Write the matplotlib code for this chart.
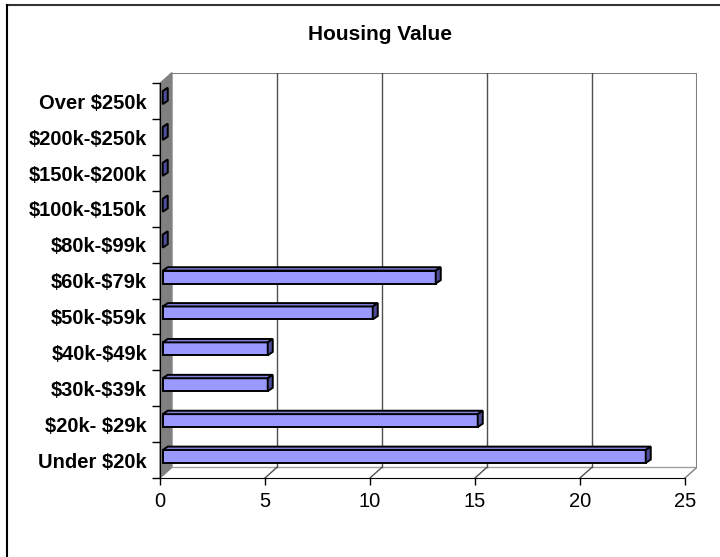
import numpy as np
import matplotlib.pyplot as plt
from matplotlib.lines import Line2D

categories = ['Under $20k', '$20k- $29k', '$30k-$39k', '$40k-$49k', '$50k-$59k',
              '$60k-$79k', '$80k-$99k', '$100k-$150k', '$150k-$200k',
              '$200k-$250k', 'Over $250k']
counts = [23, 15, 5, 5, 10, 13, 0, 0, 0, 0, 0]
x_ticks = [0, 5, 10, 15, 20, 25]
title = 'Housing Value'

plt.rcParams['font.family'] = ['Liberation Sans', 'DejaVu Sans']

# fake 3d depth (in data units)
dxw, dyw = 0.571, 0.30      # walls
bx = 0.13                    # bar front offset
bh = 0.36                    # bar front height
bdx, bdy = 0.24, 0.095       # bar depth
xmax = x_ticks[-1]
ytop = len(categories) - 0.5 + dyw

fig = plt.figure(figsize=(7.2, 5.57), dpi=100)
ax = fig.add_axes([160 / 720, 79 / 557, (xmax + dxw) * 21 / 720, (ytop + 0.5) * 35.88 / 557])
ax.set_xlim(0, xmax + dxw)
ax.set_ylim(-0.5, ytop)

# side wall
ax.fill([0, 0, dxw, dxw], [-0.5, len(categories) - 0.5, ytop, -0.5 + dyw],
        color='#808080', zorder=1, clip_on=False)
# back wall / floor edges
ax.plot([dxw, xmax + dxw, xmax + dxw], [ytop, ytop, -0.5 + dyw], color='#808080', lw=1.5, zorder=1)
ax.plot([dxw, xmax + dxw], [-0.5 + dyw] * 2, color='#a0a0a0', lw=1, zorder=1)
ax.plot([xmax, xmax + dxw], [-0.5, -0.5 + dyw], color='#808080', lw=1, zorder=1)
for v in x_ticks[1:-1]:
    ax.plot([v + dxw] * 2, [-0.5 + dyw, ytop], color='#505050', lw=1, zorder=1)
    ax.plot([v, v + dxw], [-0.5, -0.5 + dyw], color='#505050', lw=1, zorder=1)

# bars
y = np.arange(len(categories))
yc = y + 0.1
ax.barh(yc, counts, left=bx, height=bh, color='#9999ff', edgecolor='black', lw=1.4, zorder=3)
for yy, v in zip(yc, counts):
    t = yy + bh / 2
    b = yy - bh / 2
    ax.fill([bx, bx + v, bx + v + bdx, bx + bdx], [t, t, t + bdy, t + bdy],
            facecolor='#8080dd', edgecolor='black', lw=1.4, zorder=3)
    ax.fill([bx + v, bx + v + bdx, bx + v + bdx, bx + v], [b, b + bdy, t + bdy, t],
            facecolor='#4d4d99', edgecolor='black', lw=1.4, zorder=3)

labels = [c.replace('$', r'\$') for c in categories]
ax.set_yticks(y, labels, fontweight='bold', fontsize=14.5)
ax.set_yticks(np.arange(-0.5, len(categories), 1), minor=True)
ax.tick_params(axis='y', which='major', length=0, pad=9.4)
ax.tick_params(axis='y', which='minor', length=6, width=1)
ax.set_xticks(x_ticks)
ax.tick_params(axis='x', length=5, width=1, pad=5, labelsize=14.5)

for s in ['top', 'right']:
    ax.spines[s].set_visible(False)
ax.spines['left'].set_bounds(-0.5, len(categories) - 0.5)
ax.spines['bottom'].set_bounds(0, xmax)
ax.patch.set_alpha(0)

fig.text(380 / 720, 1 - 35 / 557, title, ha='center', va='center',
         fontweight='bold', fontsize=15)

# chart area border (cut off at right and bottom)
fig.add_artist(Line2D([7 / 720, 1], [1 - 5 / 557] * 2, transform=fig.transFigure,
                      color='#333333', lw=1.5))
fig.add_artist(Line2D([7 / 720] * 2, [0, 1 - 5 / 557], transform=fig.transFigure,
                      color='black', lw=1.5))

fig.savefig('out.png', dpi=100)
